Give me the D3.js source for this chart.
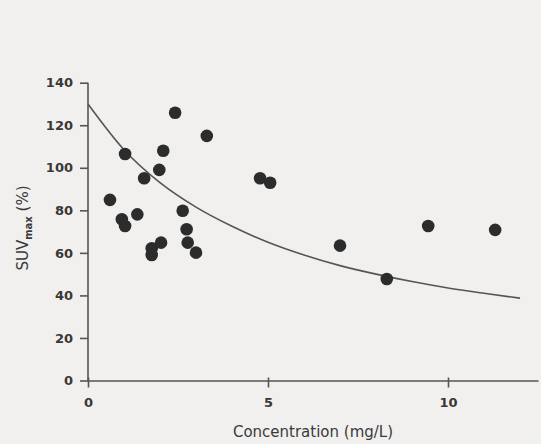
<!DOCTYPE html>
<html>
<head>
<meta charset="utf-8">
<script src="https://cdn.jsdelivr.net/npm/d3@7"></script>
<style>
  html, body { margin: 0; padding: 0; background: #f1f0ee; }
  svg { display: block; font-family: 'DejaVu Sans', 'Liberation Sans', Arial, sans-serif; }
  .axis path, .axis line { stroke: #555; stroke-width: 1.6px; }
  .axis text { fill: #383838; font-size: 13px; font-weight: bold; font-family: 'DejaVu Sans', sans-serif; }
</style>
</head>
<body>
<svg id="chart"></svg>
<script>
// SUVmax vs concentration

const concentration = [2.42, 3.30, 1.03, 2.09, 1.98, 1.56, 0.61, 0.94, 1.03, 1.37, 2.63, 2.74,
  2.77, 3.00, 1.77, 1.77, 2.03, 4.78, 5.06, 7.00, 8.30, 9.45, 11.31];
const suvMax = [125.9, 115.0, 106.5, 108.0, 99.0, 95.1, 84.9, 75.8, 72.6, 78.1, 79.8, 71.1,
  64.8, 60.1, 62.2, 59.0, 64.8, 95.1, 93.0, 63.4, 47.7, 72.6, 70.8];

// fitted curve
const curveConc = [0, 1, 2, 3, 4, 5, 6, 7, 8, 9, 10, 11, 12];
const curveSuv = [130, 108.5, 93, 81.5, 72.5, 65, 59, 54, 50, 46.5, 43.5, 41, 38.7];

const xTicks = [0, 5, 10];
const yTicks = [0, 20, 40, 60, 80, 100, 120, 140];

const width = 541;
const height = 444;

const svg = d3.select('#chart')
  .attr('width', width)
  .attr('height', height);

// scales
const x = d3.scaleLinear().domain([0, 12.5]).range([88, 538]);
const y = d3.scaleLinear().domain([0, 140]).range([380.5, 82.7]);

// y axis
svg.append('g')
  .attr('class', 'axis y-axis')
  .attr('transform', `translate(${x(0)},0)`)
  .call(d3.axisLeft(y).tickValues(yTicks).tickSize(8).tickPadding(7).tickSizeOuter(0))
  .call(g => g.select('.domain').attr('d', `M0,${y(140)}V${y(0)}`));

// x axis
svg.append('g')
  .attr('class', 'axis x-axis')
  .attr('transform', `translate(0,${y(0)})`)
  .call(d3.axisBottom(x).tickValues(xTicks).tickSize(7).tickPadding(10).tickSizeOuter(0))
  .call(g => g.selectAll('.tick line').attr('y1', -3));

// curve
const line = d3.line()
  .x((d, i) => x(curveConc[i]))
  .y(d => y(d))
  .curve(d3.curveMonotoneX);

svg.append('path')
  .datum(curveSuv)
  .attr('d', line)
  .style('fill', 'none')
  .style('stroke', '#555')
  .style('stroke-width', '1.6px');

// points
svg.append('g')
  .selectAll('circle')
  .data(suvMax)
  .enter()
  .append('circle')
  .attr('cx', (d, i) => x(concentration[i]))
  .attr('cy', d => y(d))
  .attr('r', 6.3)
  .style('fill', '#2c2c2c');

// axis titles
svg.append('text')
  .attr('x', (x.range()[0] + x.range()[1]) / 2)
  .attr('y', 437)
  .attr('text-anchor', 'middle')
  .style('font-size', '15px')
  .style('fill', '#3a3a3a')
  .text('Concentration (mg/L)');

const yTitle = svg.append('text')
  .attr('transform', 'translate(28,228) rotate(-90)')
  .attr('text-anchor', 'middle')
  .style('font-size', '15px')
  .style('fill', '#3a3a3a');
yTitle.append('tspan').text('SUV');
yTitle.append('tspan').attr('dy', 4).style('font-size', '10px').style('font-weight', 'bold').text('max');
yTitle.append('tspan').attr('dy', -4).text(' (%)');
</script>
</body>
</html>
